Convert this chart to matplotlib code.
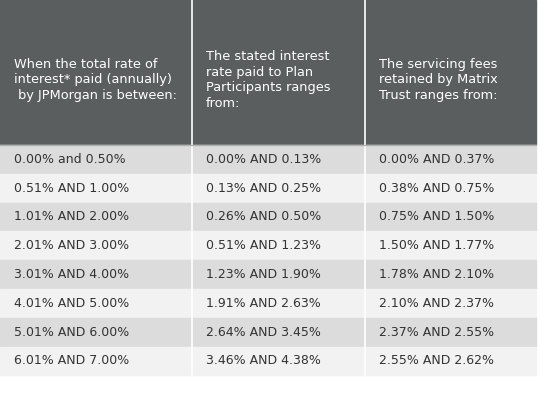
import matplotlib
matplotlib.use("Agg")
import matplotlib.pyplot as plt
from matplotlib.patches import Rectangle

headers = ["When the total rate of\ninterest* paid (annually)\n by JPMorgan is between:",
           "The stated interest\nrate paid to Plan\nParticipants ranges\nfrom:",
           "The servicing fees\nretained by Matrix\nTrust ranges from:"]
col1 = ["0.00% and 0.50%", "0.51% AND 1.00%", "1.01% AND 2.00%", "2.01% AND 3.00%",
        "3.01% AND 4.00%", "4.01% AND 5.00%", "5.01% AND 6.00%", "6.01% AND 7.00%"]
col2 = ["0.00% AND 0.13%", "0.13% AND 0.25%", "0.26% AND 0.50%", "0.51% AND 1.23%",
        "1.23% AND 1.90%", "1.91% AND 2.63%", "2.64% AND 3.45%", "3.46% AND 4.38%"]
col3 = ["0.00% AND 0.37%", "0.38% AND 0.75%", "0.75% AND 1.50%", "1.50% AND 1.77%",
        "1.78% AND 2.10%", "2.10% AND 2.37%", "2.37% AND 2.55%", "2.55% AND 2.62%"]

W, H = 544, 418
fig = plt.figure(figsize=(W/100, H/100), dpi=100)
ax = fig.add_axes([0, 0, 1, 1])
ax.set_xlim(0, W); ax.set_ylim(H, 0); ax.axis("off")

xs = [0, 192, 365, 536]
hdr_h = 144
row_h = 28.8
ax.add_patch(Rectangle((0, 0), xs[-1], hdr_h, color="#5a5e5e"))
for j, h in enumerate(headers):
    ax.text(xs[j] + 14, 80, h, color="white", fontsize=9.3, va="center", ha="left",
            linespacing=1.25)
cols = [col1, col2, col3]
for i in range(len(col1)):
    y0 = hdr_h + 1 + i * row_h
    ax.add_patch(Rectangle((0, y0), xs[-1], row_h,
                           color="#dcdcdc" if i % 2 == 0 else "#f2f2f2"))
    for j in range(3):
        ax.text(xs[j] + 14, y0 + row_h / 2, cols[j][i], color="#333333",
                fontsize=9, va="center", ha="left")
bottom = hdr_h + 1 + len(col1) * row_h
for x in xs[1:3]:
    ax.plot([x, x], [0, bottom], color="white", lw=1.2)
ax.plot([0, xs[-1]], [hdr_h + 0.5, hdr_h + 0.5], color="#b0b0b0", lw=1)
fig.savefig("out.png", dpi=100)
